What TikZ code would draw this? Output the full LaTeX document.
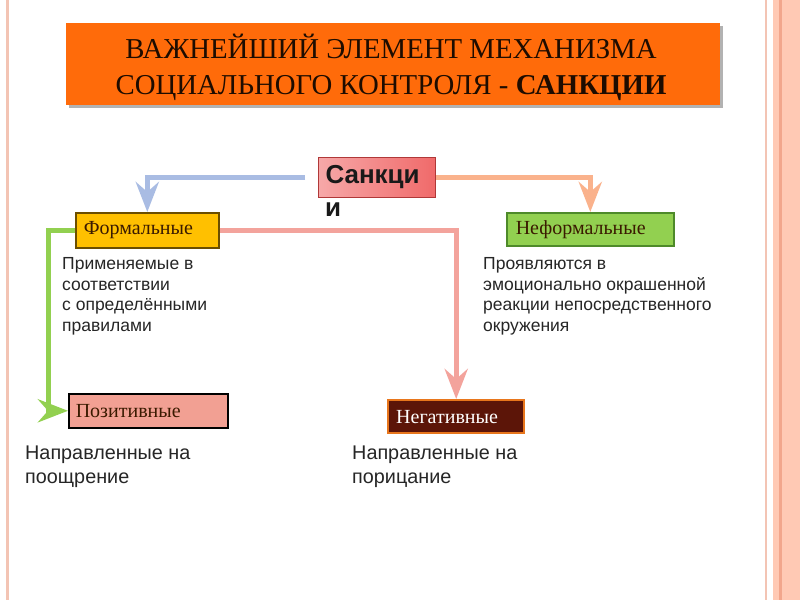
\documentclass[tikz,border=0pt]{standalone}
\usepackage{fontspec}
\setmainfont{Liberation Serif}
\newfontfamily\arialf{Liberation Sans}
\usetikzlibrary{arrows.meta}
\definecolor{titleor}{HTML}{FF6B0A}
\definecolor{titletx}{HTML}{1E0C00}
\definecolor{formfill}{HTML}{FFC000}
\definecolor{formdraw}{HTML}{6B4E00}
\definecolor{nffill}{HTML}{92D050}
\definecolor{nfdraw}{HTML}{4E8A2A}
\definecolor{posfill}{HTML}{F2A093}
\definecolor{negfill}{HTML}{5C1508}
\definecolor{negdraw}{HTML}{E8761C}
\definecolor{blueln}{HTML}{A9BCE3}
\definecolor{orln}{HTML}{FAB28C}
\definecolor{greenln}{HTML}{92D050}
\definecolor{salmln}{HTML}{F3A39C}
\definecolor{sankl}{HTML}{F6A8A8}
\definecolor{sankr}{HTML}{F06A6A}
\definecolor{sankd}{HTML}{B03838}
\definecolor{boxtx}{HTML}{3A1A00}
\definecolor{frpink}{HTML}{FFC9B4}
\definecolor{frline}{HTML}{F2A68C}
\definecolor{frthin}{HTML}{F3C4B4}
\begin{document}
\begin{tikzpicture}[x=1pt,y=-1pt,
  catbox/.style={anchor=north west, align=left, inner ysep=0pt,
    font=\fontsize{20}{24}\selectfont, text=boxtx, line width=1.6pt},
  desc/.style={anchor=north west, inner sep=0pt, align=left,
    font=\arialf\fontsize{17.5}{20.8}\selectfont, text=black!85},
  bdesc/.style={anchor=north west, inner sep=0pt, align=left,
    font=\arialf\fontsize{19.8}{23.5}\selectfont, text=black!85},
  conn/.style={line width=5pt, -{Stealth[length=30pt,width=23pt,inset=10pt]}}
]
\useasboundingbox (0,0) rectangle (800,600);
\fill[white] (0,0) rectangle (800,600);
% frame
\fill[frthin] (5.5,0) rectangle (8.5,600);
\fill[frthin] (764.5,0) rectangle (767,600);
\fill[frpink] (773,0) rectangle (800,600);
\fill[frline] (779,0) rectangle (782,600);
% title
\fill[black!30] (69,26) rectangle (723,108);
\fill[titleor] (66,23) rectangle (720,105);
\node[inner sep=0pt, align=center, text=titletx,
  font=\fontsize{28.8}{36}\selectfont] (title) at (391,67)
  {ВАЖНЕЙШИЙ ЭЛЕМЕНТ МЕХАНИЗМА\\СОЦИАЛЬНОГО КОНТРОЛЯ - \textbf{САНКЦИИ}};
% central node
\node[anchor=north west, draw=sankd, line width=1pt, left color=sankl, right color=sankr,
  minimum width=117pt, minimum height=40pt, inner xsep=7pt, text width=103pt, align=left,
  font=\arialf\bfseries\fontsize{26}{30}\selectfont, text=black!90] (sank) at (318,157) {Санкци};
\node[anchor=base west, inner sep=0pt, font=\arialf\bfseries\fontsize{26}{30}\selectfont,
  text=black!90] (sanki) at (325,216) {и};
% category boxes
\node[catbox, draw=formdraw, fill=formfill, minimum width=143pt, minimum height=35pt,
  inner xsep=8pt, text width=127pt] (form) at (75,212) {Формальные};
\node[catbox, draw=nfdraw, fill=nffill, minimum width=167pt, minimum height=33pt,
  inner xsep=9pt, text width=149pt] (nform) at (506,212) {Неформальные};
\node[catbox, draw=black, fill=posfill, minimum width=159pt, minimum height=34pt,
  inner xsep=7pt, text width=145pt] (pos) at (68,393) {Позитивные};
\node[catbox, draw=negdraw, fill=negfill, text=white, line width=2.4pt, minimum width=136pt,
  minimum height=33pt, inner xsep=8pt, text width=120pt] (neg) at (387,399) {Негативные};
% descriptions
\node[desc] (d1) at (62,257) {Применяемые в\\соответствии\\с определёнными\\правилами};
\node[desc] (d2) at (483,257) {Проявляются в\\эмоционально окрашенной\\реакции непосредственного\\окружения};
\node[bdesc] (d3) at (25,446) {Направленные на\\поощрение};
\node[bdesc] (d4) at (352,446) {Направленные на\\порицание};
% connectors
\draw[conn, blueln, shorten <=13pt] (sank.west) -| (form.north);
\draw[conn, orln] (sank.east) -| (nform.north);
\draw[conn, salmln] (form.east) -| (neg.north);
\draw[conn, greenln] (form.west) -- ++(-27,0) |- (pos.west);
\end{tikzpicture}
\end{document}
